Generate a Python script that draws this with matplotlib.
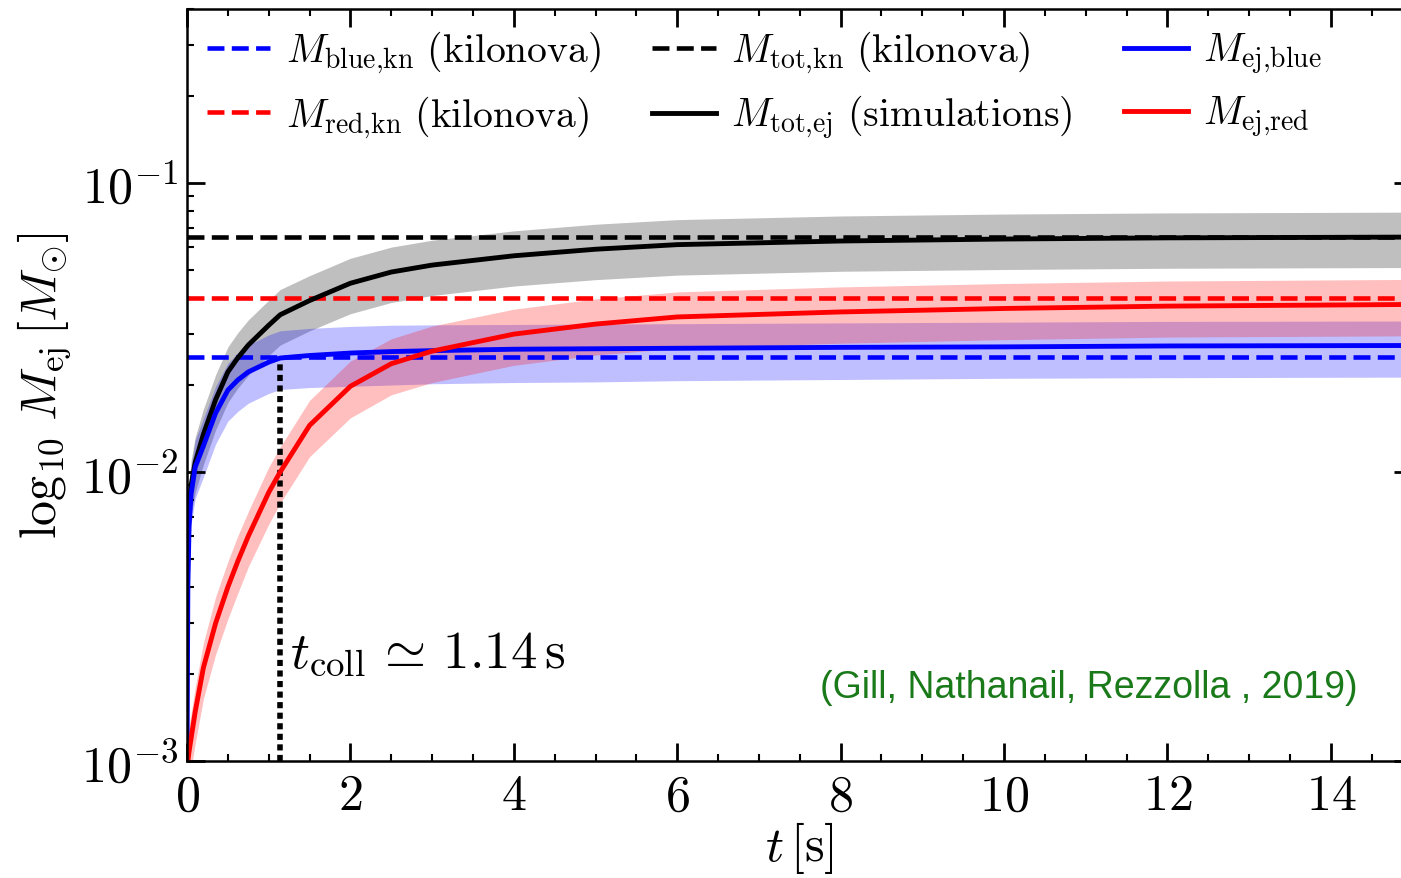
import matplotlib
matplotlib.use("Agg")
import matplotlib.pyplot as plt
from matplotlib.ticker import MultipleLocator

plt.rcParams['font.family'] = 'serif'
plt.rcParams['font.serif'] = ['cmr10']
plt.rcParams['mathtext.fontset'] = 'cm'
plt.rcParams['axes.formatter.use_mathtext'] = True
plt.rcParams['axes.unicode_minus'] = False

# time grid of the simulation curves [s]
t = [0.0, 0.01, 0.025, 0.05, 0.1, 0.2, 0.35, 0.5, 0.62, 0.75, 1.0, 1.14,
     1.5, 2.0, 2.5, 3.0, 4.0, 5.0, 6.0, 8.0, 10.0, 12.0, 15.0]

# total ejecta (simulations) + band
m_tot = [0.003, 0.0055, 0.0075, 0.009, 0.0108, 0.0135, 0.0178, 0.0222, 0.0248, 0.0275, 0.0322, 0.0350,
         0.0392, 0.0450, 0.0492, 0.0520, 0.0560, 0.0590, 0.0612, 0.0630, 0.0640, 0.0646, 0.0650]
m_tot_hi = [0.0037, 0.0067, 0.0092, 0.011, 0.0132, 0.0165, 0.0217, 0.0271, 0.0303, 0.0336, 0.0393, 0.0428,
            0.0478, 0.0549, 0.0600, 0.0634, 0.0683, 0.0720, 0.0747, 0.0769, 0.0781, 0.0788, 0.0793]
m_tot_lo = [0.0024, 0.0043, 0.0059, 0.0071, 0.0085, 0.0106, 0.0140, 0.0174, 0.0195, 0.0216, 0.0253, 0.0275,
            0.0308, 0.0353, 0.0386, 0.0408, 0.0440, 0.0463, 0.0480, 0.0495, 0.0502, 0.0507, 0.0510]

# blue ejecta + band
m_blue = [0.001, 0.004, 0.0065, 0.0084, 0.0104, 0.0123, 0.0160, 0.0192, 0.0208, 0.0222, 0.0240, 0.0248,
          0.0253, 0.0258, 0.0261, 0.0263, 0.0266, 0.0267, 0.0268, 0.0270, 0.0271, 0.0273, 0.0274]
m_blue_hi = [0.00124, 0.005, 0.0081, 0.0104, 0.0129, 0.0153, 0.0198, 0.0238, 0.0258, 0.0275, 0.0298, 0.0308,
             0.0314, 0.0319, 0.0322, 0.0323, 0.0324, 0.0325, 0.0326, 0.0328, 0.0330, 0.0332, 0.0333]
m_blue_lo = [0.00078, 0.0031, 0.0051, 0.0066, 0.0081, 0.0096, 0.0125, 0.0150, 0.0162, 0.0173, 0.0187, 0.0193,
             0.0196, 0.0198, 0.0200, 0.0202, 0.0204, 0.0205, 0.0207, 0.0209, 0.0211, 0.0212, 0.0213]

# red ejecta + band
m_red = [0.0009, 0.001, 0.00108, 0.0012, 0.00148, 0.0021, 0.0030, 0.0040, 0.0049, 0.0060, 0.0085, 0.0100,
         0.0145, 0.0198, 0.0237, 0.0262, 0.0300, 0.0325, 0.0344, 0.0358, 0.0368, 0.0375, 0.0380]
m_red_hi = [0.0011, 0.00122, 0.00132, 0.00146, 0.0018, 0.00256, 0.0037, 0.0049, 0.0060, 0.0073, 0.0104, 0.0122,
            0.0177, 0.0242, 0.0289, 0.0320, 0.0366, 0.0397, 0.0420, 0.0437, 0.0449, 0.0458, 0.0464]
m_red_lo = [0.0007, 0.00078, 0.00084, 0.00094, 0.00115, 0.00164, 0.00234, 0.0031, 0.0038, 0.0047, 0.0066, 0.0078,
            0.0113, 0.0154, 0.0185, 0.0204, 0.0234, 0.0254, 0.0268, 0.0279, 0.0287, 0.0293, 0.0296]

# kilonova estimates [M_sun]
m_blue_kn = 0.025
m_red_kn = 0.040
m_tot_kn = 0.065
t_coll = 1.14

fig = plt.figure(figsize=(14.01, 8.79), dpi=100)
ax = fig.add_axes([0.1335, 0.1331, 0.8747, 0.8555])

ax.fill_between(t, m_tot_lo, m_tot_hi, color='k', alpha=0.25, lw=0)

l1, = ax.plot([0, 15], [m_blue_kn, m_blue_kn], '--', color='blue', lw=3.3)
l2, = ax.plot([0, 15], [m_red_kn, m_red_kn], '--', color='red', lw=3.3)
l3, = ax.plot([0, 15], [m_tot_kn, m_tot_kn], '--', color='k', lw=3.3)
ax.plot([t_coll, t_coll], [1e-3, m_blue_kn], color='k', lw=4, dashes=(1.1, 0.8))

ax.fill_between(t, m_blue_lo, m_blue_hi, color='blue', alpha=0.25, lw=0)
ax.fill_between(t, m_red_lo, m_red_hi, color='red', alpha=0.25, lw=0)

l4, = ax.plot(t, m_tot, '-', color='k', lw=3.5)
l5, = ax.plot(t, m_blue, '-', color='blue', lw=3.5)
l6, = ax.plot(t, m_red, '-', color='red', lw=3.5)

ax.set_yscale('log')
ax.set_xlim(0, 15)
ax.set_ylim(1e-3, 0.4)
ax.xaxis.set_major_locator(MultipleLocator(2))
ax.xaxis.set_minor_locator(MultipleLocator(0.5))
ax.tick_params(which='both', direction='in', top=True, right=True, labelsize=36)
ax.tick_params(which='major', length=13, width=2)
ax.tick_params(which='minor', length=5, width=1.5)
ax.tick_params(axis='x', pad=9)
ax.tick_params(axis='y', pad=6)
for s in ax.spines.values():
    s.set_linewidth(1.8)

ax.set_xlabel(r'$t\,[{\rm s}]$', fontsize=36, labelpad=0)
ax.set_ylabel(r'$\log_{10}\,M_{\rm ej}\,[M_{\odot}]$', fontsize=36, labelpad=6)

ax.text(1.26, 0.00235, r'$t_{\rm coll}\,\simeq\,1.14\,{\rm s}$', fontsize=38, va='center', ha='left')
ax.text(0.955, 0.098, '(Gill, Nathanail, Rezzolla , 2019)', transform=ax.transAxes,
        fontsize=27, color='#1a7a1a', family='Liberation Sans', ha='right', va='center')

ax.legend([l1, l2, l3, l4, l5, l6],
          [r'$M_{\rm blue{,}kn}\ ({\rm kilonova})$', r'$M_{\rm red{,}kn}\ ({\rm kilonova})$',
           r'$M_{\rm tot{,}kn}\ ({\rm kilonova})$', r'$M_{\rm tot{,}ej}\ ({\rm simulations})$',
           r'$M_{\rm ej{,}blue}$', r'$M_{\rm ej{,}red}$'],
          ncol=3, loc='upper left', frameon=False, fontsize=28.5, handlelength=1.6,
          handletextpad=0.4, columnspacing=1.3, borderaxespad=0.1, labelspacing=0.45)

fig.savefig('out.png', dpi=100)
